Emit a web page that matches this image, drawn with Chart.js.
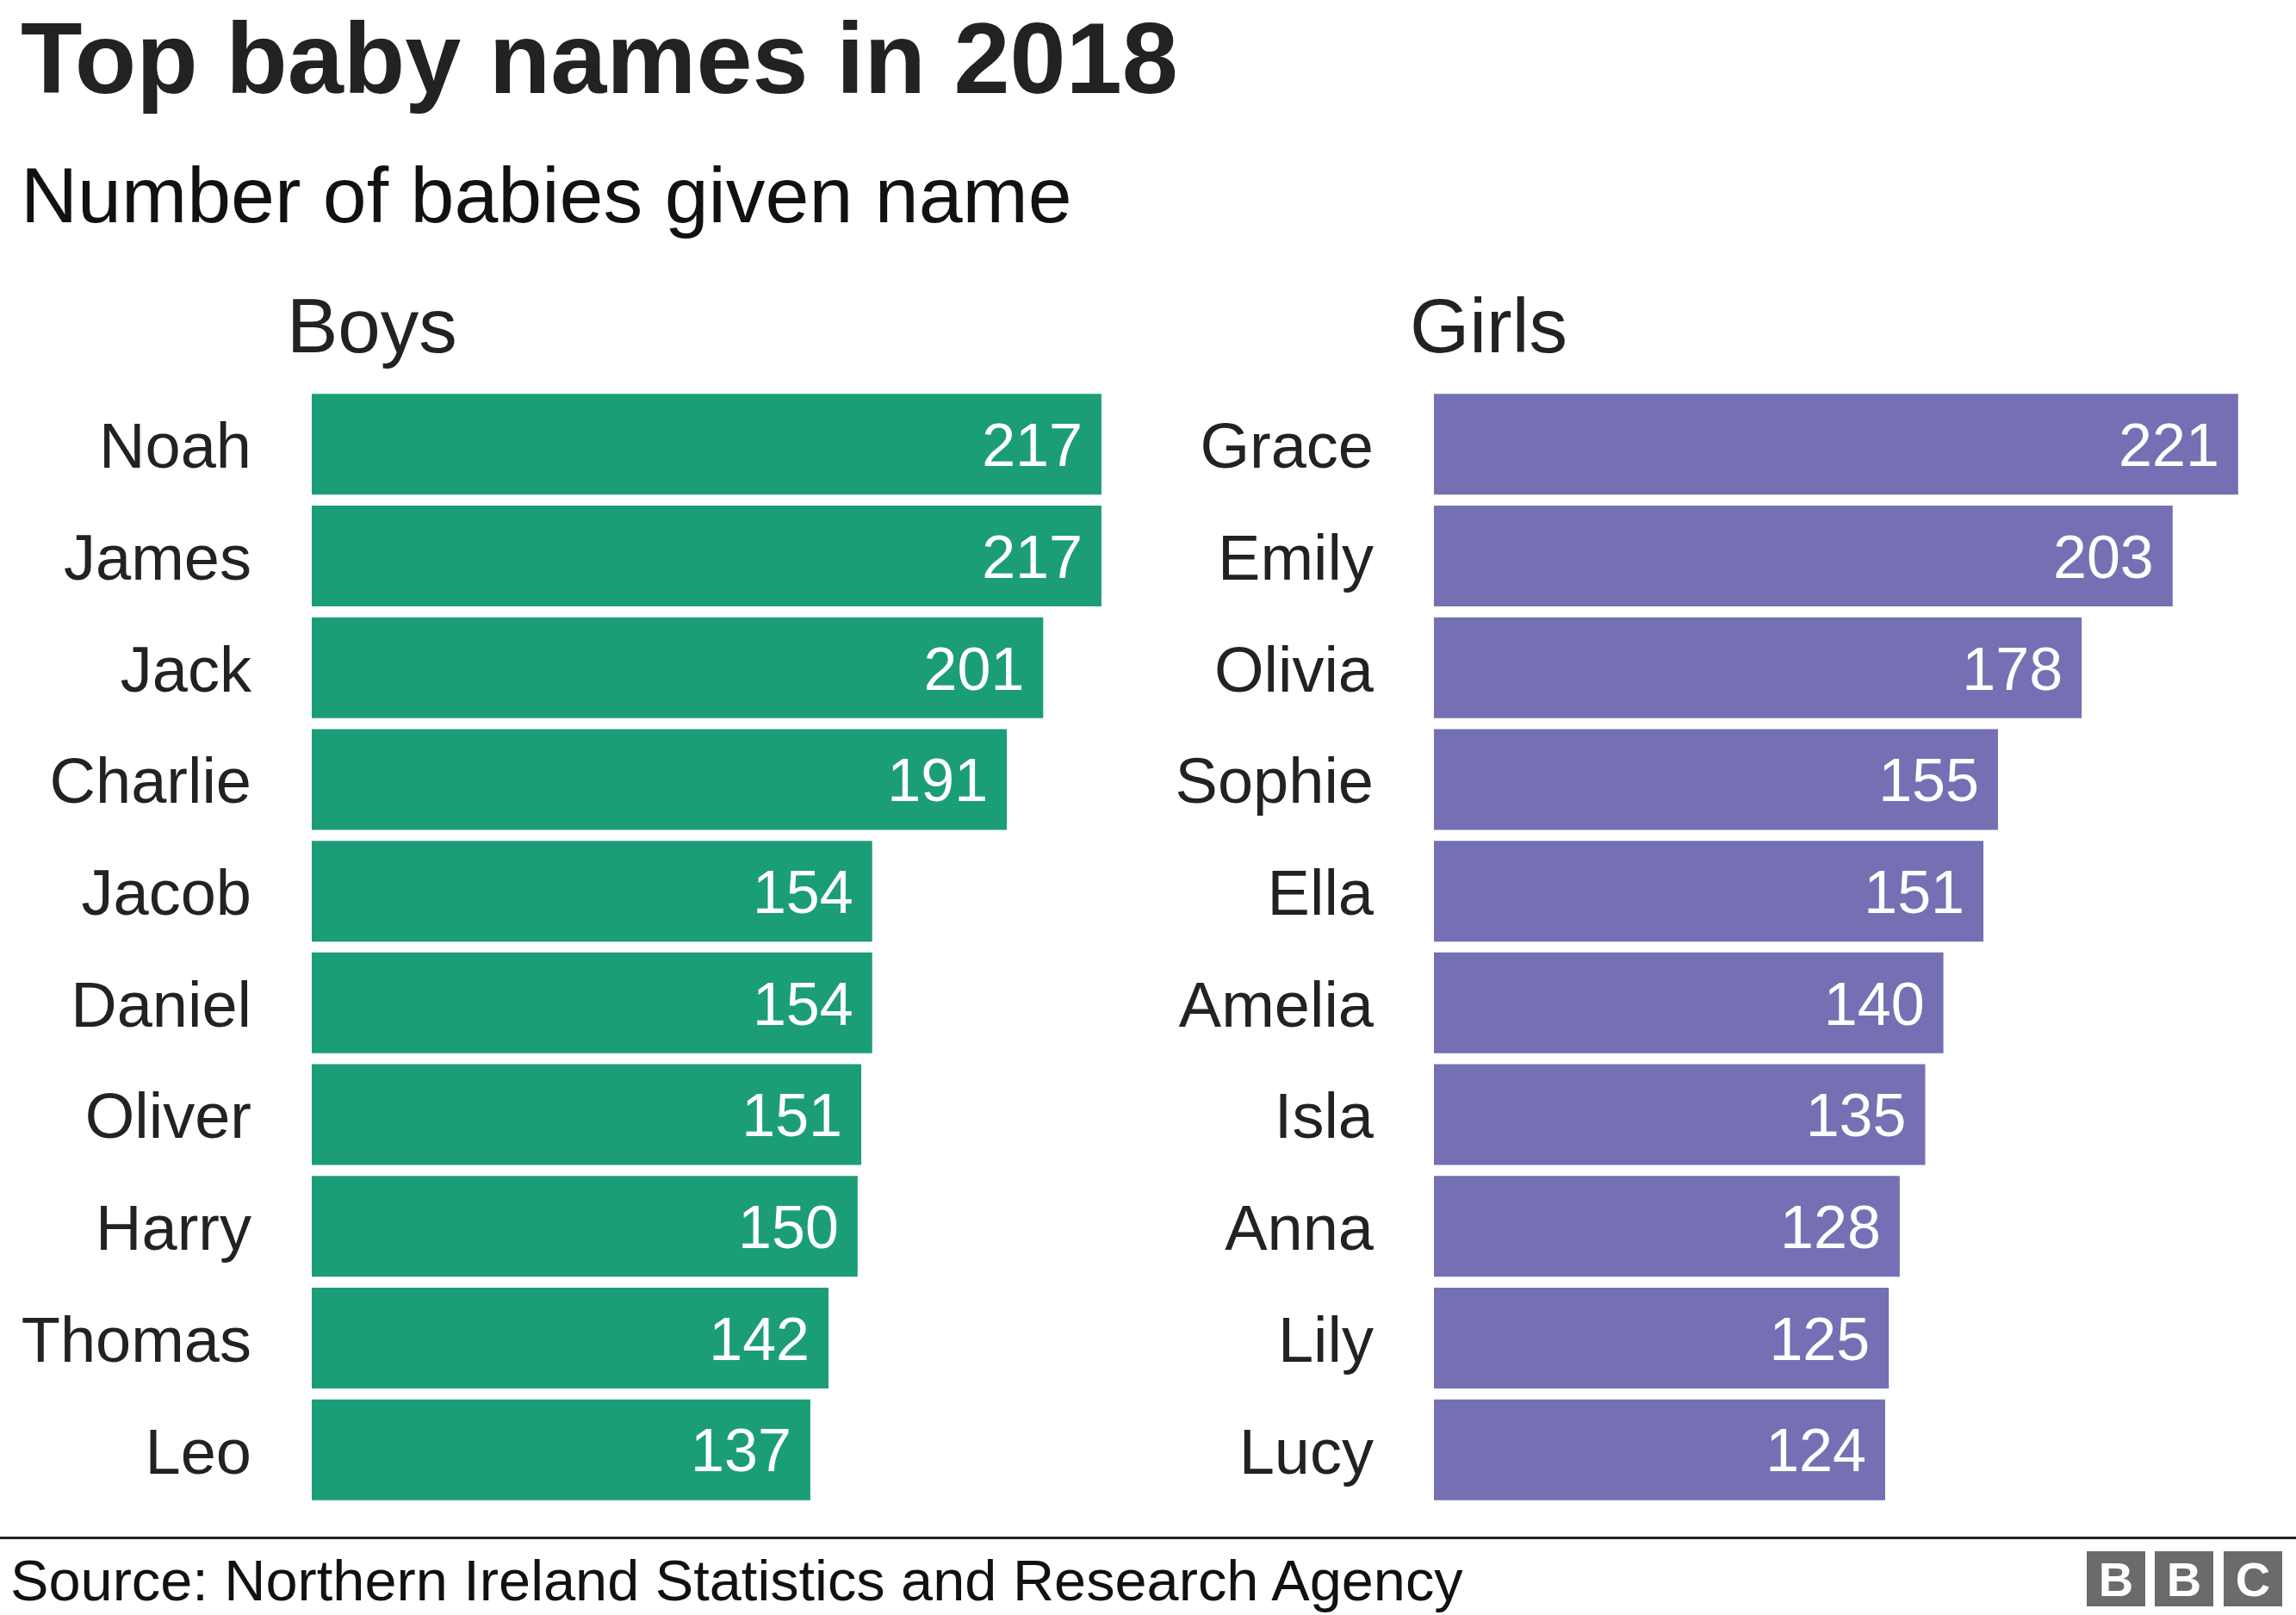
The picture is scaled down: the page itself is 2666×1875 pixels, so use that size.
<!DOCTYPE html>
<html>
<head>
<meta charset="utf-8">
<script src="https://cdn.jsdelivr.net/npm/chart.js@4.4.1/dist/chart.umd.min.js"></script>
<style>
  html, body { margin: 0; padding: 0; background: #fff; overflow: hidden; }
  body { width: 2666px; height: 1875px; position: relative; font-family: "Liberation Sans", Arial, Helvetica, sans-serif; color: #222; }
  .txt { position: absolute; white-space: nowrap; line-height: 1; }
  #title { left: 24px; top: 9px; font-size: 117px; font-weight: bold; }
  #subtitle { left: 24px; top: 181px; font-size: 91.5px; color: #111; }
  .panel { top: 334px; font-size: 89px; }
  .box { position: absolute; top: 451px; width: 1355px; height: 1297px; }
  #rule { position: absolute; left: 0; top: 1784px; width: 2666px; height: 3px; background: #222; }
  #source { left: 12px; top: 1802px; font-size: 66.7px; color: #111; }
  .bbc { position: absolute; top: 1801px; width: 68px; height: 64px; background: #6b6b6b; color: #fff;
         font: bold 56px "Liberation Sans", Arial, sans-serif; text-align: center; line-height: 66px; }
</style>
</head>
<body>
<div id="title" class="txt">Top baby names in 2018</div>
<div id="subtitle" class="txt">Number of babies given name</div>
<div class="txt panel" style="left:333px">Boys</div>
<div class="txt panel" style="left:1637px">Girls</div>
<div class="box" style="left:0px"><canvas id="boys"></canvas></div>
<div class="box" style="left:1303px"><canvas id="girls"></canvas></div>
<div id="rule"></div>
<div id="source" class="txt">Source: Northern Ireland Statistics and Research Agency</div>
<div class="bbc" style="left:2423px">B</div>
<div class="bbc" style="left:2502px">B</div>
<div class="bbc" style="left:2582px">C</div>

<script>
// values
const boyNames = ['Noah', 'James', 'Jack', 'Charlie', 'Jacob', 'Daniel', 'Oliver', 'Harry', 'Thomas', 'Leo'];
const boyCounts = [217, 217, 201, 191, 154, 154, 151, 150, 142, 137];
const girlNames = ['Grace', 'Emily', 'Olivia', 'Sophie', 'Ella', 'Amelia', 'Isla', 'Anna', 'Lily', 'Lucy'];
const girlCounts = [221, 203, 178, 155, 151, 140, 135, 128, 125, 124];

const FONT = '"Liberation Sans", Arial, Helvetica, sans-serif';

// white value inside the end of each bar
const valueLabels = {
    id: 'valueLabels',
    afterDatasetsDraw(chart) {
        const ctx = chart.ctx;
        const meta = chart.getDatasetMeta(0);
        const vals = chart.data.datasets[0].data;
        ctx.save();
        ctx.fillStyle = '#fff';
        ctx.font = '70px ' + FONT;
        ctx.textAlign = 'right';
        ctx.textBaseline = 'middle';
        meta.data.forEach((bar, i) => {
            ctx.fillText(String(vals[i]), bar.x - 22, bar.y + 6);
        });
        ctx.restore();
    }
};

function makeChart(id, labels, data, colour) {
    return new Chart(document.getElementById(id), {
        type: 'bar',
        data: {
            labels: labels,
            datasets: [{
                data: data,
                backgroundColor: colour,
                borderWidth: 0,
                barPercentage: 1,
                categoryPercentage: 0.902
            }]
        },
        plugins: [valueLabels],
        options: {
            indexAxis: 'y',
            responsive: true,
            maintainAspectRatio: false,
            animation: false,
            devicePixelRatio: 1,
            layout: { padding: 0 },
            scales: {
                x: { display: false, min: 0, max: 235 },
                y: {
                    grid: { display: false, drawTicks: false },
                    border: { display: false },
                    ticks: { color: '#222', padding: 70, labelOffset: 7, font: { family: FONT, size: 74 } },
                    afterFit: (scale) => {
                        scale.width = 362;
                        // tick padding shouldn't push the bars in vertically
                        scale.paddingTop = 0;
                        scale.paddingBottom = 0;
                    }
                }
            },
            plugins: {
                legend: { display: false },
                tooltip: { enabled: false }
            }
        }
    });
}

makeChart('boys', boyNames, boyCounts, '#1b9e77');
makeChart('girls', girlNames, girlCounts, '#7570b3');
</script>
</body>
</html>
